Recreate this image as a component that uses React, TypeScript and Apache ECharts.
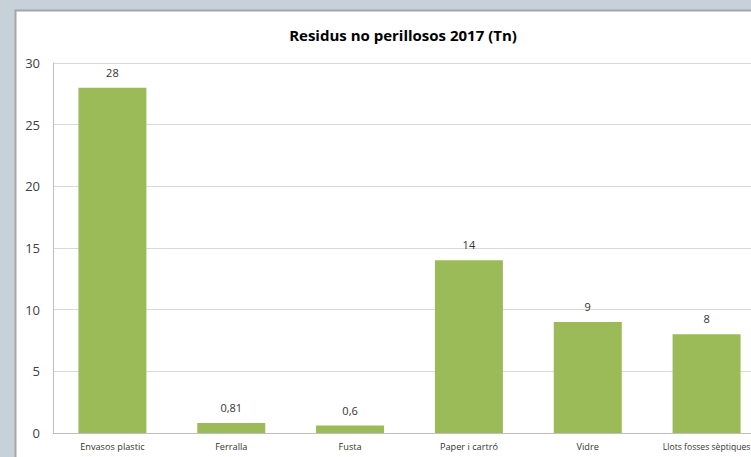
import React, { useEffect, useRef } from "react";
import * as echarts from "echarts";

const categories = ["Envasos plastic", "Ferralla", "Fusta", "Paper i cartró", "Vidre", "Llots fosses sèptiques"];
const values = [28, 0.81, 0.6, 14, 9, 8];
const valueLabels = ["28", "0,81", "0,6", "14", "9", "8"];
const titleText = "Residus no perillosos 2017 (Tn)";

export default function App() {
  const ref = useRef<HTMLDivElement>(null);
  useEffect(() => {
    document.body.style.margin = "0";
    const chart = echarts.init(ref.current!, null, { renderer: "svg" });
    chart.setOption({
      animation: false,
      backgroundColor: "#c7d1d9",
      textStyle: { fontFamily: "Open Sans, Liberation Sans, sans-serif" },
      graphic: [
        {
          type: "rect",
          z: -10,
          silent: true,
          shape: { x: 15.5, y: 10.5, width: 800, height: 500 },
          style: { fill: "#ffffff", stroke: "#a6a6a6", lineWidth: 2 },
        },
      ],
      title: {
        text: titleText,
        left: 398,
        textAlign: "center",
        top: 22,
        textStyle: { fontSize: 15, fontWeight: "bold", color: "#000000", fontFamily: "Open Sans, sans-serif" },
      },
      grid: { left: 53, top: 63, width: 713, height: 370, containLabel: false, outerBoundsMode: "none" },
      xAxis: {
        type: "category",
        data: categories.map((c, i) =>
          i === categories.length - 1 ? { value: c, textStyle: { fontSize: 8.6 } } : c
        ),
        axisLine: { show: true, lineStyle: { color: "#bfbfbf", width: 1 } },
        axisTick: { show: false },
        axisLabel: { fontSize: 9.2, color: "#333333", margin: 9, interval: 0 },
      },
      yAxis: {
        type: "value",
        min: 0,
        max: 30,
        interval: 5,
        axisLine: { show: true, lineStyle: { color: "#bfbfbf", width: 1 } },
        axisTick: { show: false },
        splitLine: { lineStyle: { color: "#d9d9d9", width: 1 } },
        axisLabel: { fontSize: 13, color: "#404040", margin: 13 },
      },
      series: [
        {
          type: "bar",
          data: values,
          barWidth: 68,
          itemStyle: { color: "#9bbb59" },
          label: {
            show: true,
            position: "top",
            distance: 10,
            fontSize: 11,
            color: "#333333",
            formatter: (p: any) => valueLabels[p.dataIndex],
          },
        },
      ],
    });
    return () => chart.dispose();
  }, []);
  return <div ref={ref} style={{ width: 751, height: 457, position: "fixed", left: 0, top: 0 }} />;
}
